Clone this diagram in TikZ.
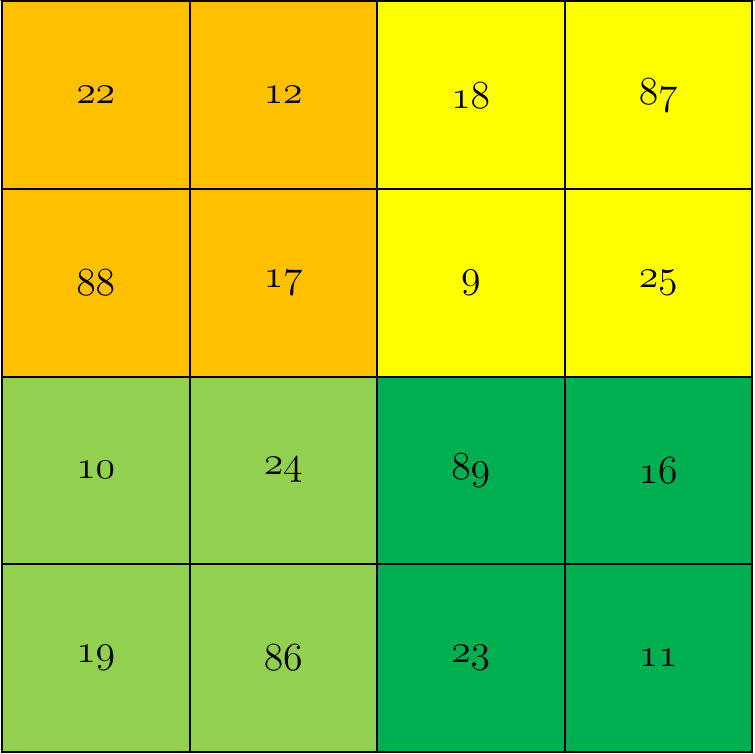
\documentclass[tikz,border=0pt]{standalone}
\usepackage{graphicx}
\definecolor{cellorange}{HTML}{FFC000}
\definecolor{cellyellow}{HTML}{FFFF00}
\definecolor{celllime}{HTML}{92D050}
\definecolor{cellgreen}{HTML}{00B050}
\newcommand{\cellnum}[1]{\scalebox{1.6}{\Huge$\oldstylenums{#1}$}}

\begin{document}
\begin{tikzpicture}[x=1pt,y=-1pt,
    cell/.style={minimum width=187.5pt, minimum height=187.5pt, inner sep=0pt, outer sep=0pt},
    border/.style={draw=black, line width=2pt}]
    % Рамка рисунка
    \useasboundingbox (0,0) rectangle (755,754);
    \draw[gray, line width=1pt] (0,0.5) -- (755,0.5);

    % Клетки таблицы
    \foreach \r/\c/\v/\col in {0/0/22/cellorange, 0/1/12/cellorange, 0/2/18/cellyellow, 0/3/87/cellyellow,
                               1/0/88/cellorange, 1/1/17/cellorange, 1/2/9/cellyellow, 1/3/25/cellyellow,
                               2/0/10/celllime, 2/1/24/celllime, 2/2/89/cellgreen, 2/3/16/cellgreen,
                               3/0/19/celllime, 3/1/86/celllime, 3/2/23/cellgreen, 3/3/11/cellgreen}
        \node[cell, fill=\col] (c\r\c) at ({95.75+187.5*\c},{95.25+187.5*\r}) {\cellnum{\v}};

    % Линии сетки
    \foreach \r in {0,...,3}
        \foreach \c in {0,...,3}
            \draw[border] (c\r\c.north west) rectangle (c\r\c.south east);
\end{tikzpicture}
\end{document}
